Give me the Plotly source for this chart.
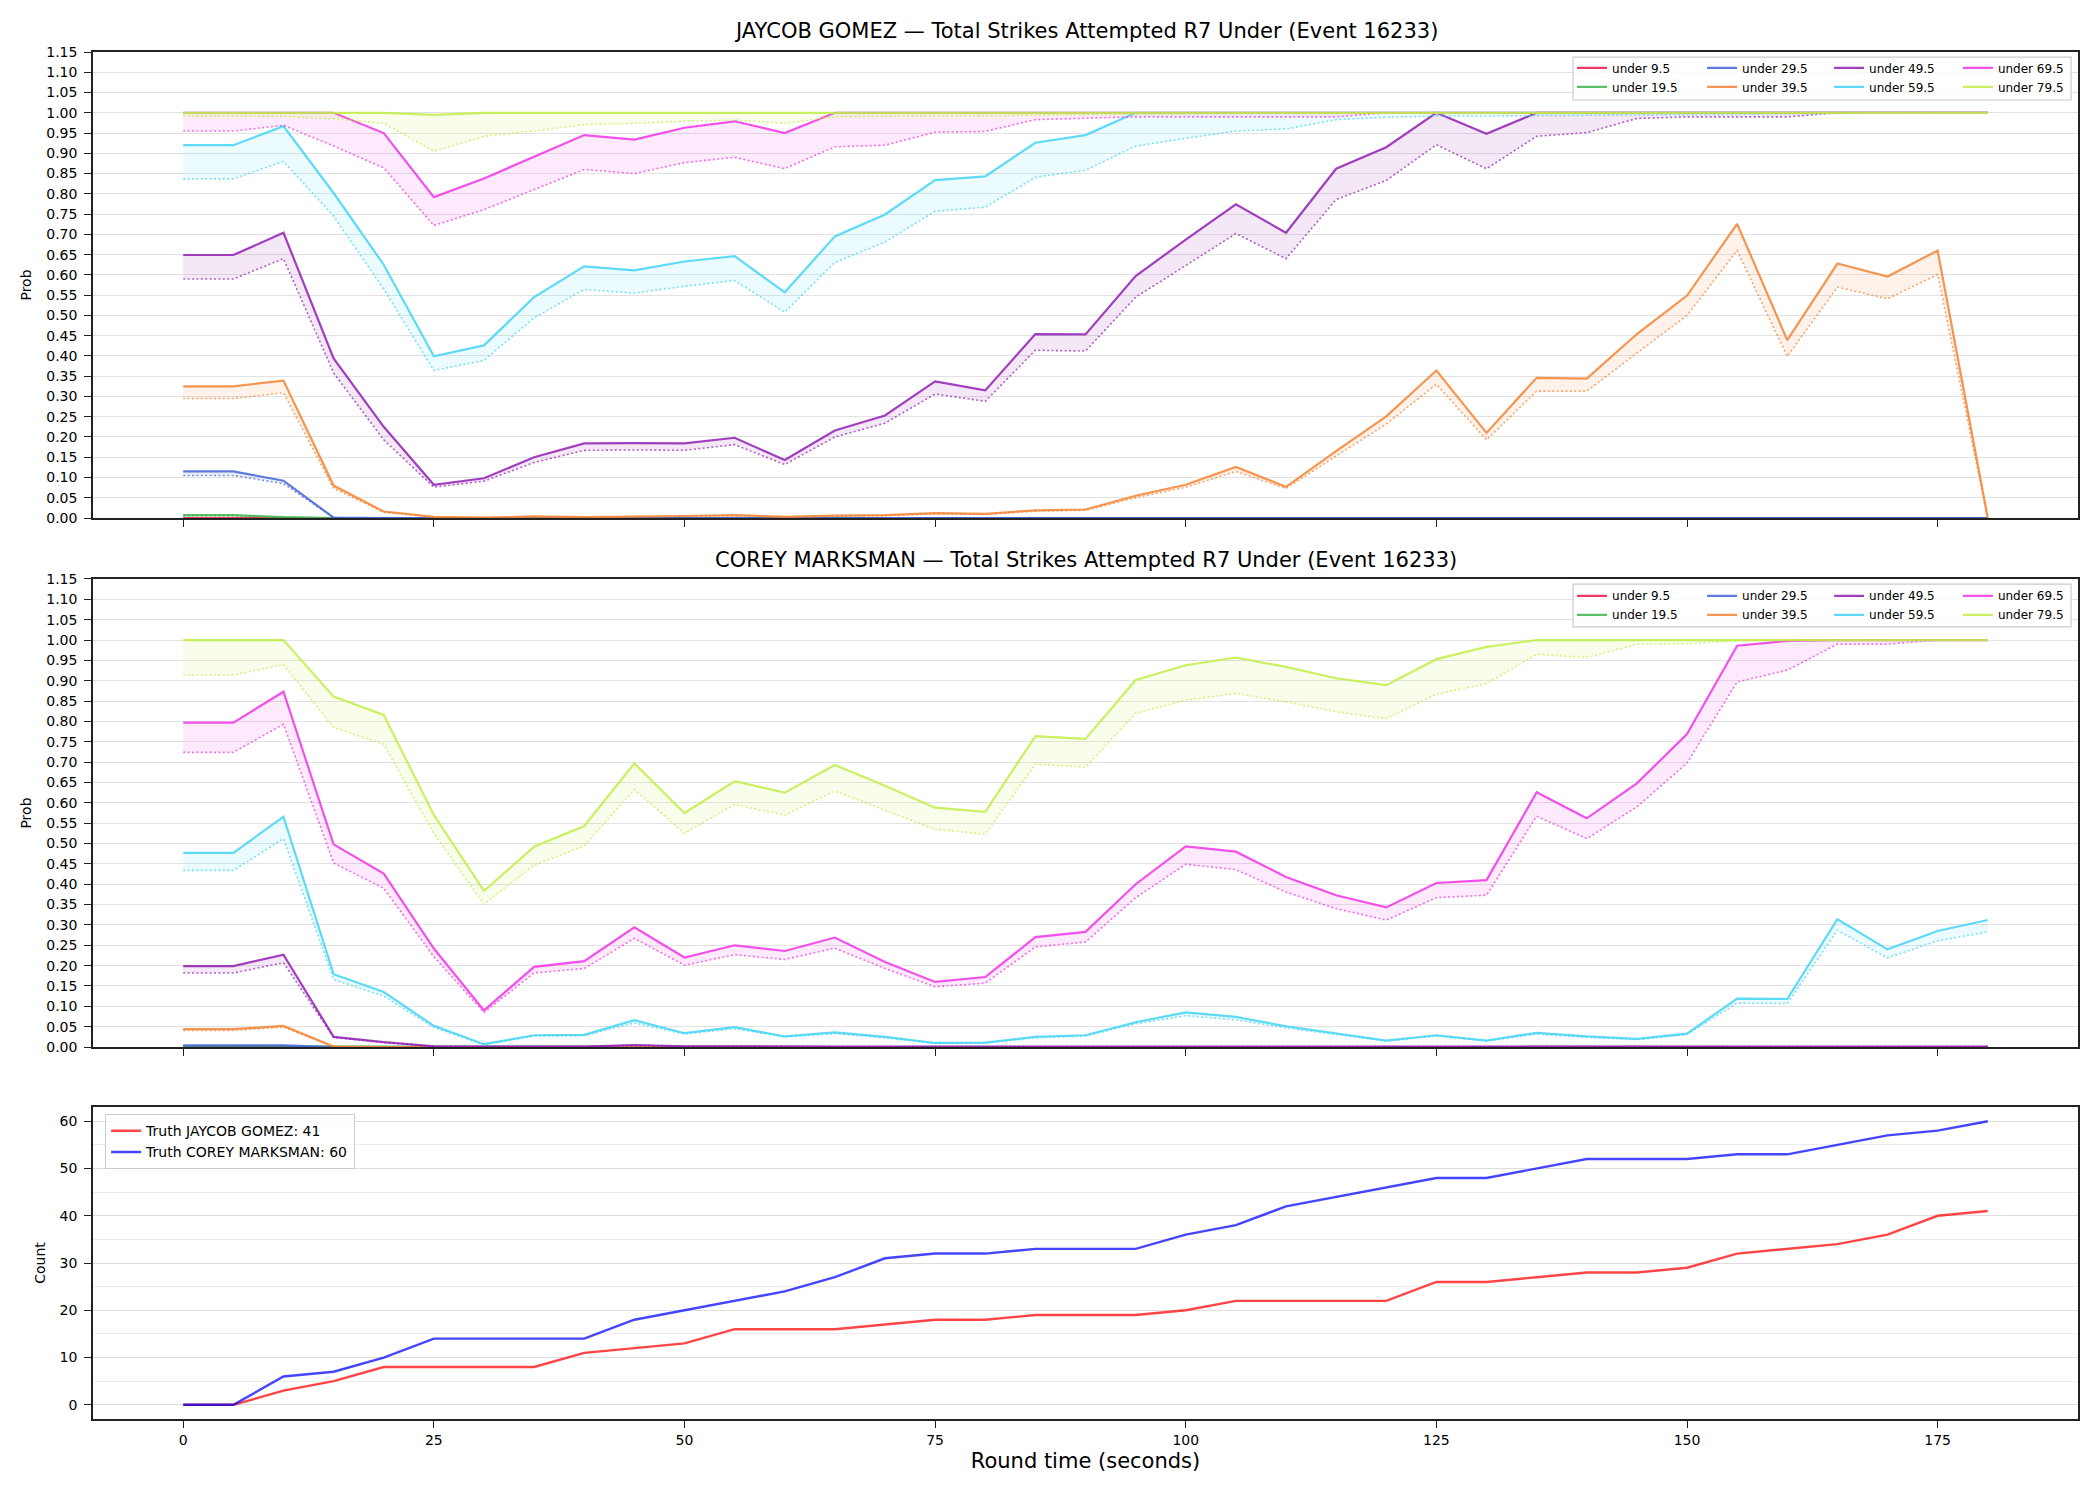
import plotly.graph_objects as go

# ---------------- data ----------------
time_s = [0, 5, 10, 15, 20, 25, 30, 35, 40, 45, 50, 55, 60, 65, 70, 75, 80, 85, 90,
          95, 100, 105, 110, 115, 120, 125, 130, 135, 140, 145, 150, 155, 160, 165, 170, 175, 180]

thresholds = ["under 9.5", "under 19.5", "under 29.5", "under 39.5",
              "under 49.5", "under 59.5", "under 69.5", "under 79.5"]

# JAYCOB GOMEZ: solid = model prob, lo = dotted lower line
jg_u9_5 = [0, 0, 0, 0, 0, 0, 0, 0, 0, 0, 0, 0, 0, 0, 0, 0, 0, 0, 0, 0, 0, 0, 0, 0, 0, 0, 0, 0, 0, 0, 0, 0, 0, 0, 0, 0, 0]
jg_u9_5_lo = [0, 0, 0, 0, 0, 0, 0, 0, 0, 0, 0, 0, 0, 0, 0, 0, 0, 0, 0, 0, 0, 0, 0, 0, 0, 0, 0, 0, 0, 0, 0, 0, 0, 0, 0, 0, 0]
jg_u19_5 = [0.007, 0.007, 0.002, 0, 0, 0, 0, 0, 0, 0, 0, 0, 0, 0, 0, 0, 0, 0, 0, 0, 0, 0, 0, 0, 0, 0, 0, 0, 0, 0, 0, 0, 0, 0, 0, 0, 0]
jg_u19_5_lo = [0.006, 0.006, 0.002, 0, 0, 0, 0, 0, 0, 0, 0, 0, 0, 0, 0, 0, 0, 0, 0, 0, 0, 0, 0, 0, 0, 0, 0, 0, 0, 0, 0, 0, 0, 0, 0, 0, 0]
jg_u29_5 = [0.115, 0.115, 0.092, 0.001, 0, 0, 0, 0, 0, 0, 0, 0, 0, 0, 0, 0, 0, 0, 0, 0, 0, 0, 0, 0, 0, 0, 0, 0, 0, 0, 0, 0, 0, 0, 0, 0, 0]
jg_u29_5_lo = [0.105, 0.105, 0.085, 0.001, 0, 0, 0, 0, 0, 0, 0, 0, 0, 0, 0, 0, 0, 0, 0, 0, 0, 0, 0, 0, 0, 0, 0, 0, 0, 0, 0, 0, 0, 0, 0, 0, 0]
jg_u39_5 = [0.325, 0.325, 0.339, 0.080, 0.016, 0.003, 0.001, 0.004, 0.002, 0.003, 0.005, 0.007, 0.003,
            0.006, 0.007, 0.012, 0.010, 0.019, 0.021, 0.055, 0.082, 0.126, 0.077, 0.165, 0.251, 0.364,
            0.210, 0.346, 0.344, 0.454, 0.549, 0.726, 0.439, 0.628, 0.596, 0.660, 0.0]
jg_u39_5_lo = [0.295, 0.295, 0.309, 0.073, 0.014, 0.003, 0.001, 0.003, 0.002, 0.003, 0.004, 0.006, 0.003,
               0.005, 0.006, 0.010, 0.009, 0.017, 0.019, 0.050, 0.076, 0.115, 0.073, 0.153, 0.232, 0.330,
               0.193, 0.313, 0.313, 0.407, 0.500, 0.660, 0.399, 0.570, 0.541, 0.601, 0.0]
jg_u49_5 = [0.649, 0.649, 0.704, 0.394, 0.225, 0.082, 0.098, 0.150, 0.184, 0.185, 0.184, 0.198, 0.143,
            0.216, 0.253, 0.337, 0.315, 0.454, 0.453, 0.597, 0.687, 0.774, 0.704, 0.862, 0.915, 1.0,
            0.948, 1.0, 1.0, 1.0, 1.0, 1.0, 1.0, 1.0, 1.0, 1.0, 1.0]
jg_u49_5_lo = [0.590, 0.590, 0.640, 0.358, 0.193, 0.076, 0.091, 0.137, 0.167, 0.168, 0.167, 0.181, 0.132,
               0.200, 0.234, 0.306, 0.288, 0.414, 0.412, 0.545, 0.623, 0.702, 0.640, 0.786, 0.833, 0.921,
               0.862, 0.942, 0.951, 0.986, 0.990, 0.990, 0.990, 1.0, 1.0, 1.0, 1.0]
jg_u59_5 = [0.920, 0.920, 0.967, 0.802, 0.625, 0.399, 0.426, 0.545, 0.621, 0.611, 0.633, 0.646, 0.557,
            0.695, 0.749, 0.834, 0.843, 0.926, 0.945, 1.0, 1.0, 1.0, 1.0, 1.0, 1.0, 1.0,
            1.0, 1.0, 1.0, 1.0, 1.0, 1.0, 1.0, 1.0, 1.0, 1.0, 1.0]
jg_u59_5_lo = [0.837, 0.837, 0.880, 0.745, 0.565, 0.364, 0.389, 0.494, 0.564, 0.555, 0.572, 0.586, 0.508,
               0.631, 0.681, 0.757, 0.767, 0.841, 0.858, 0.918, 0.937, 0.955, 0.960, 0.983, 0.989, 0.992,
               0.992, 0.993, 0.993, 0.994, 0.995, 0.996, 0.997, 0.998, 0.999, 1.0, 1.0]
jg_u69_5 = [1.0, 1.0, 1.0, 1.0, 0.950, 0.792, 0.838, 0.891, 0.945, 0.934, 0.963, 0.979, 0.950,
            1.0, 1.0, 1.0, 1.0, 1.0, 1.0, 1.0, 1.0, 1.0, 1.0, 1.0, 1.0, 1.0,
            1.0, 1.0, 1.0, 1.0, 1.0, 1.0, 1.0, 1.0, 1.0, 1.0, 1.0]
jg_u69_5_lo = [0.955, 0.955, 0.969, 0.918, 0.864, 0.722, 0.761, 0.811, 0.860, 0.850, 0.877, 0.890, 0.862,
               0.916, 0.920, 0.952, 0.954, 0.983, 0.987, 0.990, 0.990, 0.990, 0.990, 0.990, 1.0, 1.0,
               1.0, 1.0, 1.0, 1.0, 1.0, 1.0, 1.0, 1.0, 1.0, 1.0, 1.0]
jg_u79_5 = [1.0, 1.0, 1.0, 1.0, 1.0, 0.995, 1.0, 1.0, 1.0, 1.0, 1.0, 1.0, 1.0,
            1.0, 1.0, 1.0, 1.0, 1.0, 1.0, 1.0, 1.0, 1.0, 1.0, 1.0, 1.0, 1.0,
            1.0, 1.0, 1.0, 1.0, 1.0, 1.0, 1.0, 1.0, 1.0, 1.0, 1.0]
jg_u79_5_lo = [0.992, 0.992, 0.991, 0.985, 0.974, 0.905, 0.942, 0.955, 0.971, 0.974, 0.979, 0.982, 0.974,
               0.990, 0.991, 0.993, 0.994, 0.995, 0.996, 0.997, 0.998, 0.998, 0.999, 0.999, 1.0, 1.0,
               1.0, 1.0, 1.0, 1.0, 1.0, 1.0, 1.0, 1.0, 1.0, 1.0, 1.0]

# COREY MARKSMAN
cm_u9_5 = [0, 0, 0, 0, 0, 0, 0, 0, 0, 0, 0, 0, 0, 0, 0, 0, 0, 0, 0, 0, 0, 0, 0, 0, 0, 0, 0, 0, 0, 0, 0, 0, 0, 0, 0, 0, 0]
cm_u9_5_lo = [0, 0, 0, 0, 0, 0, 0, 0, 0, 0, 0, 0, 0, 0, 0, 0, 0, 0, 0, 0, 0, 0, 0, 0, 0, 0, 0, 0, 0, 0, 0, 0, 0, 0, 0, 0, 0]
cm_u19_5 = [0.001, 0.001, 0.001, 0, 0, 0, 0, 0, 0, 0, 0, 0, 0, 0, 0, 0, 0, 0, 0, 0, 0, 0, 0, 0, 0, 0, 0, 0, 0, 0, 0, 0, 0, 0, 0, 0, 0]
cm_u19_5_lo = [0.001, 0.001, 0.001, 0, 0, 0, 0, 0, 0, 0, 0, 0, 0, 0, 0, 0, 0, 0, 0, 0, 0, 0, 0, 0, 0, 0, 0, 0, 0, 0, 0, 0, 0, 0, 0, 0, 0]
cm_u29_5 = [0.004, 0.004, 0.004, 0, 0, 0, 0, 0, 0, 0, 0, 0, 0, 0, 0, 0, 0, 0, 0, 0, 0, 0, 0, 0, 0, 0, 0, 0, 0, 0, 0, 0, 0, 0, 0, 0, 0]
cm_u29_5_lo = [0.003, 0.003, 0.003, 0, 0, 0, 0, 0, 0, 0, 0, 0, 0, 0, 0, 0, 0, 0, 0, 0, 0, 0, 0, 0, 0, 0, 0, 0, 0, 0, 0, 0, 0, 0, 0, 0, 0]
cm_u39_5 = [0.044, 0.044, 0.052, 0.001, 0, 0, 0, 0, 0, 0, 0, 0, 0, 0, 0, 0, 0, 0, 0, 0, 0, 0, 0, 0, 0, 0, 0, 0, 0, 0, 0, 0, 0, 0, 0, 0, 0]
cm_u39_5_lo = [0.041, 0.041, 0.049, 0.001, 0, 0, 0, 0, 0, 0, 0, 0, 0, 0, 0, 0, 0, 0, 0, 0, 0, 0, 0, 0, 0, 0, 0, 0, 0, 0, 0, 0, 0, 0, 0, 0, 0]
cm_u49_5 = [0.199, 0.199, 0.227, 0.025, 0.012, 0.002, 0.001, 0.001, 0.001, 0.005, 0.002, 0.002, 0.001,
            0.001, 0.001, 0.001, 0.001, 0.001, 0.001, 0.001, 0.001, 0.001, 0.001, 0.001, 0.001, 0.001,
            0.001, 0.001, 0.001, 0.001, 0.001, 0.001, 0.001, 0.001, 0.001, 0.001, 0.001]
cm_u49_5_lo = [0.182, 0.182, 0.207, 0.024, 0.011, 0.002, 0.001, 0.001, 0.001, 0.004, 0.002, 0.002, 0.001,
               0.001, 0.001, 0.001, 0.001, 0.001, 0.001, 0.001, 0.001, 0.001, 0.001, 0.001, 0.001, 0.001,
               0.001, 0.001, 0.001, 0.001, 0.001, 0.001, 0.001, 0.001, 0.001, 0.001, 0.001]
cm_u59_5 = [0.477, 0.477, 0.566, 0.179, 0.135, 0.052, 0.007, 0.029, 0.030, 0.066, 0.034, 0.049, 0.026,
            0.036, 0.025, 0.010, 0.011, 0.025, 0.029, 0.061, 0.085, 0.074, 0.051, 0.034, 0.016, 0.029,
            0.016, 0.035, 0.026, 0.020, 0.033, 0.119, 0.118, 0.314, 0.240, 0.285, 0.312]
cm_u59_5_lo = [0.434, 0.434, 0.512, 0.166, 0.125, 0.048, 0.006, 0.027, 0.028, 0.059, 0.032, 0.045, 0.025,
               0.033, 0.023, 0.009, 0.010, 0.023, 0.027, 0.057, 0.077, 0.067, 0.047, 0.031, 0.015, 0.027,
               0.015, 0.032, 0.024, 0.018, 0.031, 0.108, 0.107, 0.287, 0.219, 0.261, 0.283]
cm_u69_5 = [0.797, 0.797, 0.873, 0.498, 0.426, 0.242, 0.090, 0.197, 0.211, 0.294, 0.220, 0.250, 0.236,
            0.269, 0.209, 0.160, 0.172, 0.270, 0.283, 0.400, 0.493, 0.480, 0.418, 0.373, 0.343, 0.403,
            0.410, 0.626, 0.562, 0.648, 0.769, 0.986, 0.998, 1.0, 1.0, 1.0, 1.0]
cm_u69_5_lo = [0.724, 0.724, 0.793, 0.452, 0.390, 0.222, 0.085, 0.182, 0.193, 0.267, 0.201, 0.227, 0.215,
               0.243, 0.193, 0.148, 0.157, 0.246, 0.258, 0.367, 0.449, 0.436, 0.381, 0.340, 0.312, 0.367,
               0.373, 0.567, 0.512, 0.590, 0.698, 0.897, 0.926, 0.990, 0.990, 1.0, 1.0]
cm_u79_5 = [1.0, 1.0, 1.0, 0.861, 0.816, 0.570, 0.384, 0.492, 0.543, 0.697, 0.575, 0.653, 0.625,
            0.693, 0.642, 0.588, 0.578, 0.764, 0.757, 0.902, 0.938, 0.957, 0.934, 0.906, 0.889, 0.953,
            0.983, 1.0, 1.0, 1.0, 1.0, 1.0, 1.0, 1.0, 1.0, 1.0, 1.0]
cm_u79_5_lo = [0.914, 0.914, 0.940, 0.785, 0.744, 0.525, 0.351, 0.447, 0.494, 0.633, 0.525, 0.596, 0.570,
               0.629, 0.582, 0.535, 0.523, 0.695, 0.688, 0.820, 0.852, 0.869, 0.848, 0.824, 0.807, 0.867,
               0.893, 0.965, 0.957, 0.990, 0.991, 0.998, 1.0, 1.0, 1.0, 1.0, 1.0]

truth_jaycob = [0, 0, 3, 5, 8, 8, 8, 8, 11, 12, 13, 16, 16, 16, 17, 18, 18, 19, 19, 19, 20, 22, 22, 22, 22,
                26, 26, 27, 28, 28, 29, 32, 33, 34, 36, 40, 41]
truth_corey = [0, 0, 6, 7, 10, 14, 14, 14, 14, 18, 20, 22, 24, 27, 31, 32, 32, 33, 33, 33, 36, 38, 42, 44, 46,
               48, 48, 50, 52, 52, 52, 53, 53, 55, 57, 58, 60]

x_ticks = [0, 25, 50, 75, 100, 125, 150, 175]
count_ticks = [0, 10, 20, 30, 40, 50, 60]

jg_series = [(jg_u9_5, jg_u9_5_lo), (jg_u19_5, jg_u19_5_lo), (jg_u29_5, jg_u29_5_lo), (jg_u39_5, jg_u39_5_lo),
             (jg_u49_5, jg_u49_5_lo), (jg_u59_5, jg_u59_5_lo), (jg_u69_5, jg_u69_5_lo), (jg_u79_5, jg_u79_5_lo)]
cm_series = [(cm_u9_5, cm_u9_5_lo), (cm_u19_5, cm_u19_5_lo), (cm_u29_5, cm_u29_5_lo), (cm_u39_5, cm_u39_5_lo),
             (cm_u49_5, cm_u49_5_lo), (cm_u59_5, cm_u59_5_lo), (cm_u69_5, cm_u69_5_lo), (cm_u79_5, cm_u79_5_lo)]

# ---------------- styles ----------------
palette = ["#e6194b", "#3cb44b", "#4363d8", "#f58231", "#911eb4", "#42d4f4", "#f032e6", "#bfef45"]


def rgba(hx, a):
    hx = hx.lstrip("#")
    r, g, b = int(hx[0:2], 16), int(hx[2:4], 16), int(hx[4:6], 16)
    return f"rgba({r},{g},{b},{a})"


FONT = "DejaVu Sans"
fig = go.Figure()

legend_x = [0.7451, 0.8106, 0.8746, 0.9395]
legend_y = [0.9990, 0.6128]

for p, (series, xa, ya) in enumerate([(jg_series, "x", "y"), (cm_series, "x2", "y2")]):
    for i, (hi, lo) in enumerate(series):
        col = palette[i]
        lg_idx = p * 4 + i // 2 + 1
        lg = "legend" if lg_idx == 1 else f"legend{lg_idx}"
        fig.add_trace(go.Scatter(x=time_s, y=lo, mode="lines", xaxis=xa, yaxis=ya,
                                 line=dict(color=rgba(col, 0.7), width=1.6, dash="2px,2.4px"),
                                 showlegend=False, hoverinfo="skip"))
        fig.add_trace(go.Scatter(x=time_s, y=hi, mode="lines", xaxis=xa, yaxis=ya,
                                 line=dict(color="rgba(0,0,0,0)", width=0),
                                 fill="tonexty", fillcolor=rgba(col, 0.10),
                                 showlegend=False, hoverinfo="skip"))
        fig.add_trace(go.Scatter(x=time_s, y=hi, mode="lines", xaxis=xa, yaxis=ya,
                                 line=dict(color=rgba(col, 0.85), width=2.2),
                                 name=thresholds[i], legend=lg, showlegend=True))

fig.add_trace(go.Scatter(x=time_s, y=truth_jaycob, mode="lines", xaxis="x3", yaxis="y3",
                         line=dict(color="rgba(255,0,0,0.73)", width=2.4),
                         name="Truth JAYCOB GOMEZ: 41", legend="legend9"))
fig.add_trace(go.Scatter(x=time_s, y=truth_corey, mode="lines", xaxis="x3", yaxis="y3",
                         line=dict(color="rgba(0,0,255,0.73)", width=2.4),
                         name="Truth COREY MARKSMAN: 60", legend="legend9"))

axis_common = dict(showline=True, linecolor="#222222", linewidth=1.6, mirror=True,
                   ticks="outside", ticklen=7, tickwidth=1.2, tickcolor="#222222",
                   zeroline=False, tickfont=dict(size=14, color="black", family=FONT))

xcommon = dict(axis_common, range=[-9, 189], tickmode="array", tickvals=x_ticks, showgrid=False)
ycommon = dict(axis_common, range=[0, 1.15], tickmode="linear", tick0=0, dtick=0.05, tickformat=".2f",
               showgrid=True, gridcolor="#e2e2e2", gridwidth=1, ticklabelstandoff=4,
               title=dict(text="Prob", font=dict(size=14, family=FONT, color="black"), standoff=11))

d1 = [0.6591, 1.0]
d2 = [0.2721, 0.6145]
d3 = [0.0, 0.2282]

layout = dict(
    width=2100, height=1500,
    margin=dict(l=93, r=22, t=52, b=81),
    plot_bgcolor="white", paper_bgcolor="white",
    font=dict(family=FONT, size=14, color="black"),
    xaxis=dict(xcommon, domain=[0, 1], anchor="y", showticklabels=False),
    yaxis=dict(ycommon, domain=d1, anchor="x"),
    xaxis2=dict(xcommon, domain=[0, 1], anchor="y2", showticklabels=False),
    yaxis2=dict(ycommon, domain=d2, anchor="x2"),
    xaxis3=dict(xcommon, domain=[0, 1], anchor="y3",
                title=dict(text="Round time (seconds)", font=dict(size=21, family=FONT, color="black"),
                           standoff=7)),
    yaxis3=dict(axis_common, domain=d3, anchor="x3", range=[-3, 63], tickmode="array",
                tickvals=count_ticks, showgrid=True, gridcolor="#dedede", gridwidth=1, ticklabelstandoff=4,
                minor=dict(dtick=5, tick0=0, showgrid=True, gridcolor="#ececec", gridwidth=1, ticks=""),
                title=dict(text="Count", font=dict(size=14, family=FONT, color="black"), standoff=11)),
    showlegend=True,
    annotations=[
        dict(text="JAYCOB GOMEZ — Total Strikes Attempted R7 Under (Event 16233)", xref="paper", yref="paper",
             x=0.5, y=1.0154, xanchor="center", yanchor="middle", showarrow=False,
             font=dict(size=21, family=FONT, color="black")),
        dict(text="COREY MARKSMAN — Total Strikes Attempted R7 Under (Event 16233)", xref="paper", yref="paper",
             x=0.5, y=0.6284, xanchor="center", yanchor="middle", showarrow=False,
             font=dict(size=21, family=FONT, color="black")),
    ],
    shapes=[
        dict(type="rect", xref="paper", yref="paper", x0=0.7456, x1=0.9965, y0=0.9649, y1=0.9963,
             line=dict(color="#cccccc", width=1.2), fillcolor="rgba(255,255,255,0.8)", layer="above"),
        dict(type="rect", xref="paper", yref="paper", x0=0.7456, x1=0.9965, y0=0.5794, y1=0.6108,
             line=dict(color="#cccccc", width=1.2), fillcolor="rgba(255,255,255,0.8)", layer="above"),
    ],
)

for p in range(2):
    for c in range(4):
        idx = p * 4 + c + 1
        name = "legend" if idx == 1 else f"legend{idx}"
        layout[name] = dict(x=legend_x[c], y=legend_y[p], xanchor="left", yanchor="top",
                            orientation="v", bgcolor="rgba(0,0,0,0)", borderwidth=0,
                            font=dict(size=12, family=FONT, color="black"),
                            tracegroupgap=0, itemwidth=30, traceorder="normal")
layout["legend9"] = dict(x=0.006, y=0.2231, xanchor="left", yanchor="top", orientation="v",
                         bgcolor="rgba(255,255,255,0.8)", bordercolor="#cccccc", borderwidth=1.2,
                         font=dict(size=14, family=FONT, color="black"), tracegroupgap=0, itemwidth=30,
                         traceorder="normal")

fig.update_layout(**layout)
fig.write_html("out.html")
